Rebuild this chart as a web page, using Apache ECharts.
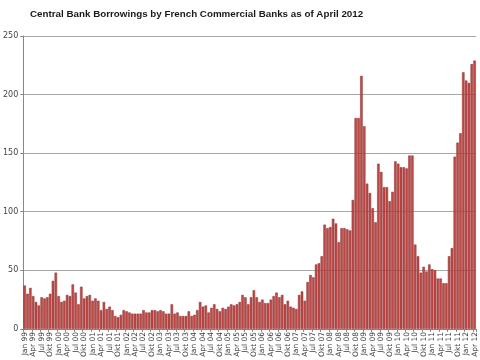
<!DOCTYPE html>
<html><head><meta charset="utf-8">
<script src="https://cdn.jsdelivr.net/npm/echarts@6/dist/echarts.min.js"></script>
<style>html,body{margin:0;padding:0;background:#fff}#c{width:480px;height:360px}</style>
</head><body><div id="c"></div>
<script>
const titleText = "Central Bank Borrowings by French Commercial Banks as of April 2012";
const monthNames = ["Jan","Feb","Mär","Apr","Mai","Jun","Jul","Aug","Sep","Okt","Nov","Dez"];
const years = ["99","00","01","02","03","04","05","06","07","08","09","10","11","12"];
const yTicks = [0, 50, 100, 150, 200, 250];

const v1999 = [37,30,35,28,23,20,27,26,27,30,41,48];
const v2000 = [28,23,24,29,28,38,31,21,36,26,28,29];
const v2001 = [24,26,24,16,23,17,19,16,11,10,12,16];
const v2002 = [15,14,13,13,13,13,16,14,14,16,16,15];
const v2003 = [16,15,13,13,21,13,14,11,11,11,15,11];
const v2004 = [12,16,23,19,20,14,18,21,17,15,18,17];
const v2005 = [19,21,20,21,23,29,27,21,27,33,27,23];
const v2006 = [25,22,22,25,28,31,27,29,21,24,19,18];
const v2007 = [17,29,32,24,40,46,44,55,56,62,89,86];
const v2008 = [87,94,90,74,86,86,85,84,110,180,180,216];
const v2009 = [173,124,116,103,91,141,134,121,121,109,117,143];
const v2010 = [141,138,138,137,148,148,72,62,48,53,49,55];
const v2011 = [51,50,43,43,39,39,62,69,147,159,167,219];
const v2012 = [212,210,226,229];

const values = [].concat(v1999,v2000,v2001,v2002,v2003,v2004,v2005,v2006,v2007,v2008,v2009,v2010,v2011,v2012);
const categories = [];
for (let y = 0; y < years.length; y++) {
  for (let m = 0; m < 12; m++) {
    if (categories.length < values.length) categories.push(monthNames[m] + " " + years[y]);
  }
}

const chart = echarts.init(document.getElementById('c'), null, {renderer:'canvas'});
chart.setOption({
  animation: false,
  backgroundColor: '#ffffff',
  title: {
    text: titleText,
    left: 25, top: 4,
    textStyle: {fontFamily: 'Liberation Sans', fontWeight: 'bold', fontSize: 9.8, color: '#1a1a1a'}
  },
  grid: {left: 21, right: 4, top: 36, bottom: 29, containLabel: false},
  xAxis: {
    type: 'category',
    data: categories,
    boundaryGap: true,
    axisLine: {show: true, lineStyle: {color: '#888', width: 1}},
    axisTick: {show: true, interval: 2, length: 3, lineStyle: {color: '#888'}},
    axisLabel: {
      interval: 2, rotate: 90, fontSize: 7.5, color: '#3a3a3a',
      fontFamily: 'DejaVu Sans', margin: 3
    }
  },
  yAxis: {
    type: 'value', min: 0, max: 250, interval: 50,
    axisLine: {show: true, lineStyle: {color: '#888'}},
    axisTick: {show: true, length: 3, lineStyle: {color: '#888'}},
    axisLabel: {fontSize: 8, color: '#444', fontFamily: 'DejaVu Sans', margin: 5,
      formatter: function(v){ return yTicks.indexOf(v) >= 0 ? String(v) : ''; }},
    splitLine: {show: true, lineStyle: {color: '#a8a8a8', width: 1}}
  },
  series: [{
    type: 'bar',
    data: values,
    barCategoryGap: '12%',
    itemStyle: {color: '#bf4a47', borderColor: '#8f2f2d', borderWidth: 0.5}
  }]
});
</script></body></html>
